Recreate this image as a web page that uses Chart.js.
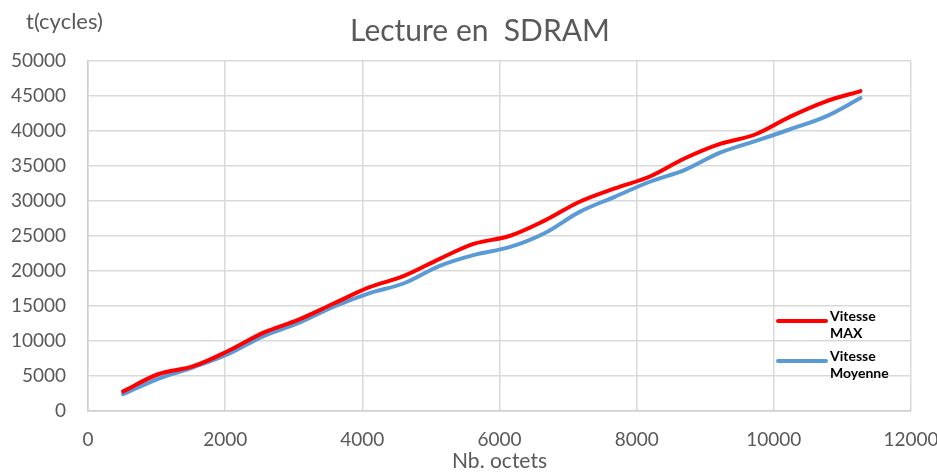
<!DOCTYPE html>
<html lang="fr">
<head>
  <meta charset="UTF-8">
  <title>Lecture en SDRAM</title>
  <script src="https://cdn.jsdelivr.net/npm/chart.js"></script>
  <style>
    html, body { margin: 0; padding: 0; background: #fff; }
    #wrap { width: 937px; height: 476px; }
  </style>
</head>
<body>
  <div id="wrap"><canvas id="sdramChart" width="937" height="476"></canvas></div>

  <script>
    // taille des transferts (octets)
    const octets = [512, 1024, 1536, 2048, 2560, 3072, 3584, 4096, 4608, 5120, 5632,
                    6144, 6656, 7168, 7680, 8192, 8704, 9216, 9728, 10240, 10752, 11264];
    // temps mesurés en cycles
    const vitesseMax = [2800, 5250, 6400, 8600, 11200, 13050, 15350, 17650, 19300, 21700, 23900,
                        25000, 27200, 29900, 31800, 33500, 36100, 38150, 39500, 42050, 44200, 45700];
    const vitesseMoyenne = [2400, 4600, 6250, 8150, 10700, 12580, 14900, 16800, 18250, 20700, 22300,
                            23400, 25400, 28450, 30600, 32750, 34450, 36900, 38550, 40250, 42050, 44700];
    const xTicks = [0, 2000, 4000, 6000, 8000, 10000, 12000];
    const yTicks = [0, 5000, 10000, 15000, 20000, 25000, 30000, 35000, 40000, 45000, 50000];

    const FONT = 'Lato, "Open Sans", sans-serif';
    const GREY = '#595959';
    const GRID = '#d9d9d9';

    const toPoints = vals => vals.map((v, i) => ({ x: octets[i], y: v }));

    // titre, libellé de l'axe Y et légende sur deux lignes, dessinés à la main
    const extras = {
      id: 'extras',
      afterDraw(chart) {
        const { ctx, chartArea } = chart;
        ctx.save();
        ctx.fillStyle = GREY;
        ctx.textBaseline = 'middle';

        ctx.font = '30px ' + FONT;
        ctx.textAlign = 'center';
        ctx.fillText('Lecture en  SDRAM', 480, 31);

        ctx.font = '22px ' + FONT;
        ctx.textAlign = 'left';
        ctx.fillText('t(cycles)', 26, 22);

        const items = [
          { ds: 0, lines: ['Vitesse', 'MAX'], y: 321 },
          { ds: 1, lines: ['Vitesse', 'Moyenne'], y: 361 }
        ];
        const x0 = chartArea.right - 133;
        items.forEach(it => {
          const ds = chart.data.datasets[it.ds];
          ctx.strokeStyle = ds.borderColor;
          ctx.lineWidth = 4;
          ctx.lineCap = 'round';
          ctx.beginPath();
          ctx.moveTo(x0, it.y);
          ctx.lineTo(x0 + 48, it.y);
          ctx.stroke();
          ctx.fillStyle = '#000';
          ctx.font = 'bold 14px ' + FONT;
          ctx.fillText(it.lines[0], x0 + 52, it.y - 5);
          ctx.fillText(it.lines[1], x0 + 52, it.y + 12);
        });
        ctx.restore();
      }
    };

    new Chart(document.getElementById('sdramChart'), {
      type: 'scatter',
      data: {
        datasets: [
          {
            label: 'Vitesse MAX',
            data: toPoints(vitesseMax),
            borderColor: '#ff0000',
            backgroundColor: '#ff0000',
            borderWidth: 4,
            borderCapStyle: 'round',
            showLine: true,
            tension: 0.35,
            pointRadius: 0
          },
          {
            label: 'Vitesse Moyenne',
            data: toPoints(vitesseMoyenne),
            borderColor: '#5b9bd5',
            backgroundColor: '#5b9bd5',
            borderWidth: 4,
            borderCapStyle: 'round',
            showLine: true,
            tension: 0.35,
            pointRadius: 0
          }
        ]
      },
      options: {
        responsive: false,
        animation: false,
        layout: { padding: { left: 0, right: 0, top: 61, bottom: 0 } },
        plugins: {
          legend: { display: false },
          tooltip: { enabled: false },
          title: { display: false }
        },
        scales: {
          x: {
            type: 'linear',
            min: 0,
            max: 12000,
            afterBuildTicks: s => { s.ticks = xTicks.map(v => ({ value: v })); },
            afterFit: s => { s.height = 65; s.paddingRight = 26; },
            grid: { color: GRID, lineWidth: 1.5, drawTicks: false },
            border: { color: '#cfcfcf', width: 1.5 },
            ticks: {
              color: GREY,
              padding: 17,
              maxRotation: 0,
              font: { family: FONT, size: 19 },
              callback: v => String(v)
            },
            title: {
              display: true,
              text: 'Nb. octets',
              color: GREY,
              font: { family: FONT, size: 21 },
              padding: { top: 0, bottom: 2 }
            }
          },
          y: {
            min: 0,
            max: 50000,
            afterBuildTicks: s => { s.ticks = yTicks.map(v => ({ value: v })); },
            afterFit: s => { s.width = 88; },
            grid: { color: GRID, lineWidth: 1.5, drawTicks: false },
            border: { color: '#cfcfcf', width: 1.5 },
            ticks: {
              color: GREY,
              padding: 22,
              font: { family: FONT, size: 19 },
              callback: v => String(v)
            }
          }
        }
      },
      plugins: [extras]
    });
  </script>
</body>
</html>
